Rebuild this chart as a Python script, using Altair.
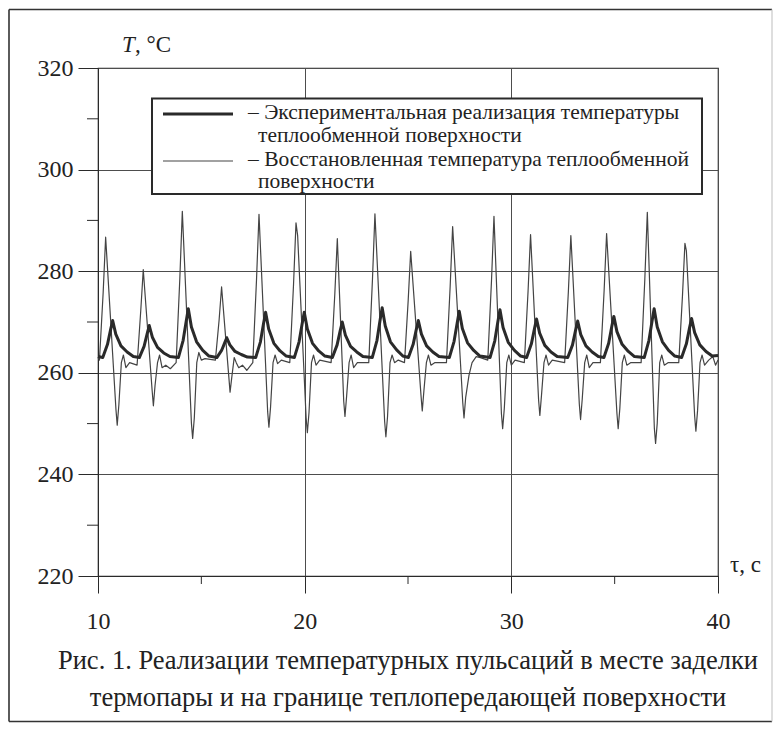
import altair as alt
import pandas as pd

# --- measured series -------------------------------------------------------
# Experimental surface temperature (thick curve)
exp_time = [
    10.00, 10.23, 10.46, 10.61, 10.71, 10.86, 11.11, 11.41, 11.71,
    12.00, 12.23, 12.38, 12.48, 12.63, 12.88, 13.18, 13.48,
    13.89, 14.12, 14.27, 14.37, 14.52, 14.77, 15.07, 15.37,
    15.75, 15.98, 16.13, 16.23, 16.38, 16.63, 16.93, 17.23,
    17.63, 17.86, 18.01, 18.11, 18.26, 18.51, 18.81, 19.11,
    19.50, 19.73, 19.88, 19.98, 20.13, 20.38, 20.68, 20.98,
    21.34, 21.57, 21.72, 21.82, 21.97, 22.22, 22.52, 22.82,
    23.27, 23.50, 23.65, 23.75, 23.90, 24.15, 24.45, 24.75,
    25.02, 25.25, 25.40, 25.50, 25.65, 25.90, 26.20, 26.50,
    27.00, 27.23, 27.38, 27.48, 27.63, 27.88, 28.18, 28.48,
    28.97, 29.20, 29.35, 29.45, 29.60, 29.85, 30.15, 30.45,
    30.74, 30.97, 31.12, 31.22, 31.37, 31.62, 31.92, 32.22,
    32.73, 32.96, 33.11, 33.21, 33.36, 33.61, 33.91, 34.21,
    34.48, 34.71, 34.86, 34.96, 35.11, 35.36, 35.66, 35.96,
    36.43, 36.66, 36.81, 36.91, 37.06, 37.31, 37.61, 37.91,
    38.24, 38.47, 38.62, 38.72, 38.87, 39.12, 39.42, 39.72, 40.00,
]
exp_temp = [
    263.2, 263.0, 265.6, 268.5, 270.3, 267.6, 265.3, 264.1, 263.2,
    263.0, 265.2, 267.7, 269.3, 267.0, 265.0, 263.9, 263.2,
    263.0, 266.4, 270.2, 272.6, 269.0, 266.1, 264.4, 263.3,
    263.0, 264.4, 265.9, 266.9, 265.5, 264.2, 263.6, 263.1,
    263.0, 266.1, 269.7, 271.9, 268.6, 265.8, 264.3, 263.3,
    263.0, 266.1, 269.7, 271.9, 268.6, 265.8, 264.3, 263.3,
    263.0, 265.5, 268.3, 270.0, 267.4, 265.2, 264.1, 263.2,
    263.0, 266.4, 270.4, 272.8, 269.2, 266.1, 264.5, 263.3,
    263.0, 265.6, 268.5, 270.3, 267.6, 265.3, 264.1, 263.2,
    263.0, 266.2, 269.8, 272.1, 268.7, 265.9, 264.4, 263.3,
    263.0, 266.3, 270.1, 272.4, 268.9, 266.0, 264.4, 263.3,
    263.0, 265.7, 268.7, 270.6, 267.8, 265.4, 264.1, 263.2,
    263.0, 265.5, 268.4, 270.2, 267.5, 265.3, 264.1, 263.2,
    263.0, 265.8, 269.1, 271.1, 268.1, 265.6, 264.2, 263.2,
    263.0, 266.4, 270.2, 272.6, 269.0, 266.1, 264.4, 263.3,
    263.0, 265.7, 268.8, 270.7, 267.9, 265.5, 264.2, 263.3, 263.4,
]

# Restored surface temperature (thin curve)
rec_time = [
    10.00, 10.07, 10.25, 10.37, 10.87, 10.93, 11.01, 11.13, 11.23, 11.35, 11.53,
    11.89, 12.07, 12.19, 12.62, 12.68, 12.76, 12.88, 12.98, 13.10, 13.28, 13.50,
    13.78, 13.96, 14.08, 14.52, 14.58, 14.66, 14.78, 14.88, 15.00, 15.18,
    15.68, 15.86, 15.98, 16.33, 16.39, 16.47, 16.59, 16.69, 16.81, 16.99, 17.20,
    17.49, 17.67, 17.79, 18.21, 18.27, 18.35, 18.47, 18.57, 18.69, 18.87,
    19.28, 19.46, 19.58, 19.66, 20.07, 20.13, 20.21, 20.33, 20.43, 20.55, 20.73,
    21.28, 21.46, 21.58, 21.89, 21.95, 22.03, 22.15, 22.25, 22.37, 22.55,
    23.10, 23.28, 23.40, 23.87, 23.93, 24.01, 24.13, 24.23, 24.35, 24.53,
    24.83, 25.01, 25.13, 25.63, 25.69, 25.77, 25.89, 25.99, 26.11, 26.29,
    26.86, 27.04, 27.16, 27.65, 27.71, 27.79, 27.95, 28.10, 28.30, 28.50,
    28.86, 29.04, 29.16, 29.52, 29.58, 29.66, 29.78, 29.88, 30.00, 30.18,
    30.63, 30.81, 30.93, 31.32, 31.38, 31.46, 31.58, 31.68, 31.80, 31.98,
    32.58, 32.76, 32.88, 33.29, 33.35, 33.43, 33.55, 33.65, 33.77, 33.95,
    34.31, 34.49, 34.61, 35.11, 35.17, 35.25, 35.37, 35.47, 35.59, 35.77,
    36.28, 36.46, 36.58, 36.92, 36.98, 37.06, 37.18, 37.28, 37.40, 37.58,
    38.10, 38.28, 38.40, 38.47, 38.87, 38.93, 39.01, 39.13, 39.23, 39.35, 39.55,
    39.75, 39.88, 40.00,
]
rec_temp = [
    263.0, 262.5, 275.8, 286.7, 252.7, 249.7, 253.7, 262.0, 263.5, 261.0, 262.0,
    261.5, 272.3, 280.3, 256.5, 253.5, 257.5, 262.0, 263.5, 261.0, 261.5, 260.8,
    262.0, 278.6, 291.8, 250.1, 247.1, 251.1, 262.0, 264.0, 262.5, 262.8,
    262.5, 270.4, 276.9, 259.2, 256.2, 259.0, 263.0, 262.0, 261.0, 261.5, 260.5,
    262.0, 278.3, 291.2, 252.3, 249.3, 253.3, 262.0, 263.5, 261.8, 262.5,
    262.0, 277.3, 289.5, 287.0, 251.2, 248.2, 252.2, 262.0, 263.5, 261.5, 262.5,
    262.0, 275.6, 286.4, 254.4, 251.4, 255.4, 262.0, 263.5, 261.0, 262.0,
    262.0, 278.3, 291.3, 250.4, 247.4, 251.4, 262.0, 263.5, 262.0, 262.5,
    262.0, 274.3, 283.9, 255.5, 252.5, 256.5, 262.0, 263.5, 261.5, 262.0,
    262.0, 277.0, 288.8, 254.1, 251.1, 255.1, 259.5, 262.0, 263.2, 263.0,
    262.5, 278.1, 290.8, 252.0, 249.0, 253.0, 262.0, 263.5, 261.5, 262.5,
    262.0, 276.1, 287.2, 254.6, 251.6, 255.6, 262.0, 263.5, 261.5, 262.5,
    262.0, 276.0, 287.0, 253.8, 250.8, 254.8, 262.0, 263.5, 261.0, 262.0,
    262.0, 276.2, 287.4, 252.0, 249.0, 253.0, 262.0, 263.5, 261.5, 262.0,
    262.0, 278.5, 291.6, 249.1, 246.1, 250.1, 262.0, 263.5, 261.5, 262.0,
    262.0, 275.1, 285.5, 284.0, 251.5, 248.5, 252.5, 262.0, 263.5, 261.5, 262.5,
    263.2, 261.5, 262.5,
]

# --- axes ------------------------------------------------------------------
x_major = [10, 20, 30, 40]
x_minor = [15, 25, 35]
y_major = [220, 240, 260, 280, 300, 320]
y_minor = [230, 250, 270, 290, 310]

# --- texts -----------------------------------------------------------------
legend_lines = [
    "– Экспериментальная реализация температуры",
    "теплообменной поверхности",
    "– Восстановленная температура теплообменной",
    "поверхности",
]
caption_lines = [
    "Рис. 1. Реализации температурных пульсаций в месте заделки",
    "термопары и на границе теплопередающей поверхности",
]
y_title_symbol = "T"
y_title_unit = ", °C"
x_title = "τ, c"

W, H = 620, 508
FONT = "Liberation Serif, Tinos, Times New Roman, serif"
INK = "#2a2a2a"
GRID = "#4d4d4d"

x_scale = alt.Scale(domain=[10, 40], nice=False, zero=False)
y_scale = alt.Scale(domain=[220, 320], nice=False, zero=False)

x_axis = alt.Axis(
    values=x_major, title=None, format="d", grid=True, gridColor=GRID,
    gridWidth=1, tickSize=17, tickColor=INK, tickWidth=1, domainColor=INK,
    labelFont=FONT, labelFontSize=24, labelColor="#222", labelPadding=16,
    labelFlush=False,
)
y_axis = alt.Axis(
    values=y_major, title=None, format="d", grid=True, gridColor=GRID,
    gridWidth=1, tickSize=20, tickColor=INK, tickWidth=1, domainColor=INK,
    labelFont=FONT, labelFontSize=24, labelColor="#222", labelPadding=5,
    labelFlush=False,
)

exp_df = pd.DataFrame({"t": exp_time, "T": exp_temp})
rec_df = pd.DataFrame({"t": rec_time, "T": rec_temp})

rec_line = alt.Chart(rec_df).mark_line(
    color="#444", strokeWidth=1.2, strokeJoin="round"
).encode(
    x=alt.X("t:Q", scale=x_scale, axis=x_axis),
    y=alt.Y("T:Q", scale=y_scale, axis=y_axis),
)
exp_line = alt.Chart(exp_df).mark_line(
    color=INK, strokeWidth=3, strokeJoin="round"
).encode(
    x=alt.X("t:Q", scale=x_scale, axis=x_axis),
    y=alt.Y("T:Q", scale=y_scale, axis=y_axis),
)

# short minor ticks outside the plot frame
x_minor_ticks = alt.Chart(pd.DataFrame({"t": x_minor})).mark_rule(
    color=INK, strokeWidth=1
).encode(
    x=alt.X("t:Q", scale=x_scale, axis=x_axis),
    y=alt.value(H), y2=alt.value(H + 8),
)
y_minor_ticks = alt.Chart(pd.DataFrame({"T": y_minor})).mark_rule(
    color=INK, strokeWidth=1
).encode(
    y=alt.Y("T:Q", scale=y_scale, axis=y_axis),
    x=alt.value(0), x2=alt.value(-11),
)

one = pd.DataFrame({"k": [0]})


def text_layer(s, x, y, size, align="left", style="normal"):
    return alt.Chart(pd.DataFrame({"s": [s]})).mark_text(
        font=FONT, fontSize=size, align=align, baseline="alphabetic",
        color="#222", fontStyle=style,
    ).encode(text="s:N", x=alt.value(x), y=alt.value(y))


def rule_layer(x1, y1, x2, y2, color, width):
    return alt.Chart(one).mark_rule(color=color, strokeWidth=width).encode(
        x=alt.value(x1), x2=alt.value(x2), y=alt.value(y1), y2=alt.value(y2)
    )


legend_box = alt.Chart(one).mark_rect(
    fill="white", stroke=INK, strokeWidth=2
).encode(
    x=alt.value(54), x2=alt.value(604), y=alt.value(30.5), y2=alt.value(126)
)
legend_thick = rule_layer(65, 46, 135, 46, INK, 3)
legend_thin = rule_layer(65, 93, 135, 93, "#444", 1.2)

legend_texts = [
    text_layer(legend_lines[0], 150, 51, 21.5),
    text_layer(legend_lines[1], 160, 74, 21.5),
    text_layer(legend_lines[2], 150, 98, 21.5),
    text_layer(legend_lines[3], 160, 120, 21.5),
]

titles = [
    text_layer(y_title_symbol, 24, -16, 23, style="italic"),
    text_layer(y_title_unit, 37, -16, 23),
    text_layer(x_title, 632, 504, 23),
    text_layer(caption_lines[0], 310, 601, 26.5, align="center"),
    text_layer(caption_lines[1], 310, 638, 26.5, align="center"),
]

# figure frame
frame = [
    rule_layer(-89, -58.5, 674, -58.5, "#333", 1.6),
    rule_layer(-89, -58.5, -89, 653.5, "#333", 1.6),
    rule_layer(-89, 653.5, 674, 653.5, "#333", 1.6),
    rule_layer(674, -58.5, 674, 653.5, "#c8c8c8", 1.2),
]

chart = alt.layer(
    rec_line, exp_line, x_minor_ticks, y_minor_ticks,
    legend_box, legend_thick, legend_thin,
    *legend_texts, *titles, *frame,
).properties(
    width=W, height=H,
    padding={"left": 98, "top": 68, "right": 61, "bottom": 153},
    autosize=alt.AutoSizeParams(type="none"),
    background="white",
).configure_view(stroke=INK, strokeWidth=1.2)

chart.save("out.html", embed_options={"renderer": "svg", "actions": False})
